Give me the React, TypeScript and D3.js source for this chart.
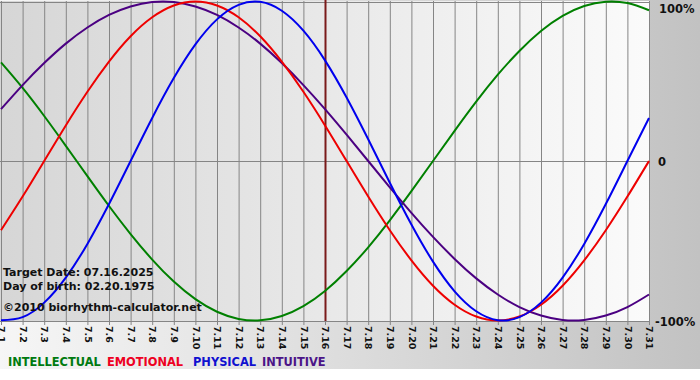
import React from "react";
import * as d3 from "d3";

const days = ["7.1","7.2","7.3","7.4","7.5","7.6","7.7","7.8","7.9","7.10","7.11","7.12","7.13","7.14","7.15","7.16","7.17","7.18","7.19","7.20","7.21","7.22","7.23","7.24","7.25","7.26","7.27","7.28","7.29","7.30","7.31"];

const physical = [-0.998,-0.979,-0.888,-0.731,-0.52,-0.27,0,0.27,0.52,0.731,0.888,0.979,0.998,0.942,0.817,0.631,0.398,0.136,-0.136,-0.398,-0.631,-0.817,-0.942,-0.998,-0.979,-0.888,-0.731,-0.52,-0.27,0,0.27];
const emotional = [-0.434,-0.223,0,0.223,0.434,0.623,0.782,0.901,0.975,1,0.975,0.901,0.782,0.623,0.434,0.223,0,-0.223,-0.434,-0.623,-0.782,-0.901,-0.975,-1,-0.975,-0.901,-0.782,-0.623,-0.434,-0.223,0];
const intellectual = [0.618,0.458,0.282,0.095,-0.095,-0.282,-0.458,-0.618,-0.756,-0.866,-0.945,-0.99,-0.999,-0.972,-0.91,-0.815,-0.69,-0.541,-0.372,-0.189,0,0.189,0.372,0.541,0.69,0.815,0.91,0.972,0.999,0.99,0.945];
const intuitive = [0.325,0.476,0.614,0.736,0.837,0.916,0.969,0.997,0.997,0.969,0.916,0.837,0.736,0.614,0.476,0.325,0.165,0,-0.165,-0.325,-0.476,-0.614,-0.736,-0.837,-0.916,-0.969,-0.997,-0.997,-0.969,-0.916,-0.837];

const yTicks = [
  { v: 1, label: "100%" },
  { v: 0, label: "0" },
  { v: -1, label: "-100%" },
];
const targetIndex = 15;
const infoLines = ["Target Date: 07.16.2025", "Day of birth: 02.20.1975", "\u00A92010 biorhythm-calculator.net"];
const legendItems = [
  { name: "INTELLECTUAL", color: "#007a10" },
  { name: "EMOTIONAL", color: "#ee0022" },
  { name: "PHYSICAL", color: "#1010d0" },
  { name: "INTUITIVE", color: "#4b1488" },
];
const seriesList = [
  { values: intellectual, color: "#008000" },
  { values: intuitive, color: "#4b0082" },
  { values: emotional, color: "#ee0000" },
  { values: physical, color: "#0000ee" },
];

export default function App() {
  const W = 700, H = 380;
  const plotL = 0, plotR = 650, plotT = 1, plotB = 321;
  const x = d3.scaleLinear().domain([0, days.length - 1]).range([1, 649]);
  const y = d3.scaleLinear().domain([-1, 1]).range([320.5, 1.5]);
  const line = d3
    .line<number>()
    .x((_, i) => x(i))
    .y((d) => y(d))
    .curve(d3.curveNatural);
  const font = "Verdana, 'DejaVu Sans', sans-serif";
  const legendX = [8, 107, 193, 262];
  const yLabelBase: Record<string, number> = { "1": 13, "0": 166, "-1": 326 };

  return (
    <div style={{ position: "absolute", left: 0, top: 0 }}>
      <svg width={W} height={H} style={{ display: "block" }}>
        <defs>
          <linearGradient id="outer" x1="0" x2="1" y1="0" y2="0">
            <stop offset="0" stopColor="#f6f6f6" />
            <stop offset="1" stopColor="#c2c2c2" />
          </linearGradient>
          <linearGradient id="plotbg" x1="0" x2="1" y1="0" y2="0">
            <stop offset="0" stopColor="#d6d6d6" />
            <stop offset="1" stopColor="#fbfbfb" />
          </linearGradient>
          <clipPath id="clip">
            <rect x={plotL} y={plotT - 1} width={plotR - plotL} height={plotB - plotT + 2} />
          </clipPath>
        </defs>
        <rect x={0} y={0} width={W} height={H} fill="#ffffff" />
        <rect x={0} y={0} width={W} height={369} fill="url(#outer)" />
        <rect x={plotL} y={plotT} width={plotR - plotL} height={plotB - plotT} fill="url(#plotbg)" />
        {days.map((d, i) => (
          <line key={"g" + i} x1={x(i) + 0.5} x2={x(i) + 0.5} y1={plotT} y2={plotB + 4} stroke="#858585" strokeWidth={1} />
        ))}
        {yTicks.map((t) => (
          <line key={"h" + t.v} x1={plotL} x2={plotR} y1={Math.round(y(t.v)) + 0.5} y2={Math.round(y(t.v)) + 0.5} stroke="#858585" strokeWidth={1} />
        ))}
        <line x1={x(targetIndex) + 0.5} x2={x(targetIndex) + 0.5} y1={0} y2={plotB} stroke="#7a1a1a" strokeWidth={2} />
        <g clipPath="url(#clip)">
          {seriesList.map((s, i) => (
            <path key={"s" + i} d={line(s.values) || ""} fill="none" stroke={s.color} strokeWidth={2} />
          ))}
        </g>
        {yTicks.map((t) => (
          <text key={"yl" + t.v} x={t.v === 0 ? 658 : t.v === 1 ? 659 : 655} y={yLabelBase[String(t.v)]} fontFamily={font} fontWeight="bold" fontSize={11.5} fill="#111">
            {t.label}
          </text>
        ))}
        {days.map((d, i) => (
          <text
            key={"xl" + i}
            transform={`translate(${x(i) + 0.5},${plotB + 5}) rotate(90)`}
            dy="0.35em"
            fontFamily={font}
            fontWeight="bold"
            fontSize={9.5}
            fill="#111"
          >
            {d}
          </text>
        ))}
        {infoLines.map((t, i) => (
          <text key={"info" + i} x={3} y={[276, 290, 311][i]} fontFamily={font} fontWeight="bold" fontSize={11} fill="#111">
            {t}
          </text>
        ))}
        {legendItems.map((l, i) => (
          <text key={"lg" + i} x={legendX[i]} y={366} fontFamily={font} fontWeight="bold" fontSize={11.4} fill={l.color}>
            {l.name}
          </text>
        ))}
      </svg>
    </div>
  );
}
